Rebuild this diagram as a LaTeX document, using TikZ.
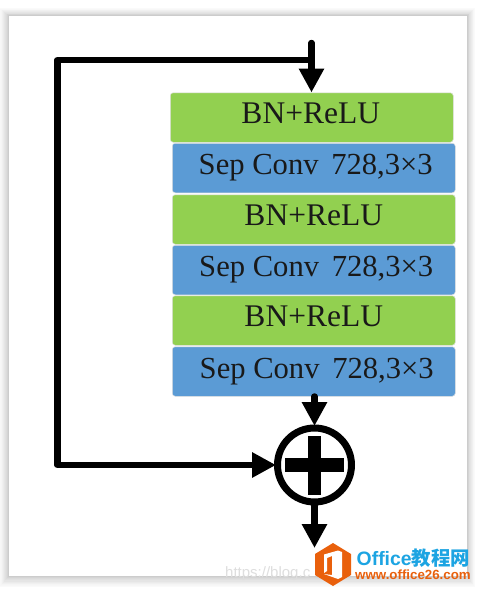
\documentclass[tikz,border=0pt]{standalone}
\usepackage{fontspec}
\setmainfont{Liberation Serif}
\newfontfamily\wmfont{Noto Sans CJK SC}[Scale=1]
\newfontfamily\latinwm{Liberation Sans}
\usetikzlibrary{arrows.meta,calc}
\definecolor{gbox}{HTML}{92D050}
\definecolor{bbox}{HTML}{5B9BD5}
\definecolor{wmblue}{HTML}{1CA4E2}
\definecolor{wmorange}{HTML}{E9600C}
\tikzset{
  x=1pt,y=-1pt,
  layerbox/.style={minimum width=283pt,minimum height=49.5pt,inner sep=0pt,rounded corners=3pt,
    draw=white!75!gray,line width=.5pt,text=black!90,anchor=north west},
  greenbox/.style={layerbox,fill=gbox,text height=21pt,text depth=10pt,font=\fontsize{31.5}{31.5}\selectfont},
  bluebox/.style={layerbox,fill=bbox,text height=22pt,text depth=9pt,font=\fontsize{30.6}{30.6}\selectfont},
  flow/.style={line width=6.5pt,draw=black},
  headtip/.style={-{Triangle[length=24pt,width=24pt]}},
  addcircle/.style={circle,draw=black,line width=7pt,minimum size=74pt,inner sep=0pt,fill=white},
}
\begin{document}
\begin{tikzpicture}
\useasboundingbox (0,0) rectangle (478,592);
\fill[white] (0,0) rectangle (478,592);
% page shadow
\foreach \d/\k in {10/2,9/3,8/4,7/6,6/8,5/10,4/12,3/14,2/17,1/20}{
  \fill[black!\k] (9-\d,16-\d*0.8) rectangle (467+\d*0.8,576+\d*1.1);
}
\fill[white] (9,16) rectangle (467,576);

\node[greenbox] (b1) at (170,92.5) {\kern-2pt BN+ReLU};
\node[bluebox]  (s1) at (172,143) {\kern4pt Sep Conv\, 728,3×3};
\node[greenbox] (b2) at (172,194.5) {BN+ReLU};
\node[bluebox]  (s2) at (172,245) {\kern5pt Sep Conv\, 728,3×3};
\node[greenbox] (b3) at (172,295.5) {BN+ReLU};
\node[bluebox]  (s3) at (172,346.5) {\kern6pt Sep Conv\, 728,3×3};

\node[addcircle] (add) at (314.5,465) {};
\fill[black] (285,458) rectangle (344,472);
\fill[black] (308,436) rectangle (321,495);

\coordinate (top) at (311.5,43);
\coordinate (join) at (311.5,60);
\coordinate (cornerA) at (57.5,60);
\coordinate (out) at (314.5,548);

\draw[flow,line cap=round] (top) -- (join);
\draw[flow,headtip] (join) -- (b1.north -| join);
\draw[flow,line join=round,headtip,shorten >=-2pt] (join) -- (cornerA) |- (add.west);
\draw[flow,line cap=round,headtip,shorten >=-1.5pt] (s3.south -| add) -- (add.north);
\draw[flow,headtip,shorten <=-4pt] (add.south) -- (out);

% watermark
\node[anchor=west,inner sep=0pt,text=black!13,font=\latinwm\fontsize{15}{15}\selectfont] (wm0) at (225,574) {https://blog.c};
\fill[wmorange] (333,543) -- (351,554) -- (351,575) -- (333,586) -- (315,575) -- (315,554) -- cycle;
\fill[white] (324,554.5) -- (338,550.5) -- (342,552) -- (342,577) -- (338,579) -- (324,574) -- (332,575) -- (332,556) -- (327,558) -- (327,571) -- (324,573) -- cycle;
\node[anchor=west,inner sep=0pt,text=wmblue,font=\latinwm\bfseries\fontsize{19.4}{19.4}\selectfont] (wm1) at (356.5,558) {Office\wmfont 教程网};
\node[anchor=west,inner sep=0pt,text=wmorange,font=\latinwm\bfseries\fontsize{13.3}{13.3}\selectfont] (wm2) at (355,575) {www.office26.com};
\end{tikzpicture}
\end{document}
